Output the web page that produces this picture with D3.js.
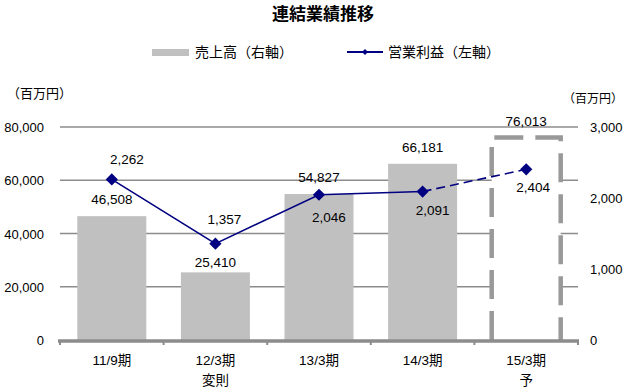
<!DOCTYPE html>
<html>
<head>
<meta charset="utf-8">
<script src="https://cdn.jsdelivr.net/npm/d3@7"></script>
<style>
  body { margin: 0; background: #fff; }
  svg { display: block; }
</style>
</head>
<body>
<div id="chart"></div>
<script>
// data
var periods = ['11/9期', '12/3期', '13/3期', '14/3期', '15/3期'];
var periodNotes = ['', '変則', '', '', '予'];
var sales = [46508, 25410, 54827, 66181, 76013];      // bars, left scale
var profit = [2262, 1357, 2046, 2091, 2404];          // line, right scale
var forecast = [false, false, false, false, true];
var leftTicks = [0, 20000, 40000, 60000, 80000];
var rightTicks = [0, 1000, 2000, 3000];

// label nudges (px) to follow the original placement
var salesLabelDy = [-17, -10, -17, -17, -17];
var profitLabelDx = [15, 9, 10, 10, 7];
var profitLabelDy = [-20, -25, 22, 18, 18];

var W = 629, H = 390;
var numFont = '"Liberation Sans", Arial, "Noto Sans CJK JP", sans-serif';
var jpFont = '"Noto Sans CJK JP", sans-serif';
var fmt = d3.format(',');

var svg = d3.select('#chart').append('svg')
  .attr('width', W)
  .attr('height', H);

var x = d3.scaleBand()
  .domain(periods)
  .range([60, 578])
  .paddingInner(0.334)
  .paddingOuter(0.167);

var yL = d3.scaleLinear().domain([0, 80000]).range([340, 127]);
var yR = d3.scaleLinear().domain([0, 3000]).range([340, 127]);

// title + legend
svg.append('text')
  .attr('x', 323).attr('y', 20)
  .attr('text-anchor', 'middle')
  .style('font-family', jpFont)
  .style('font-size', '17px')
  .style('font-weight', 'bold')
  .text('連結業績推移');

var lg = svg.append('g');
lg.append('rect')
  .attr('x', 152).attr('y', 49)
  .attr('width', 37).attr('height', 7)
  .attr('fill', '#c0c0c0');
lg.append('text')
  .attr('x', 195).attr('y', 57)
  .style('font-family', jpFont).style('font-size', '14px')
  .text('売上高（右軸）');
lg.append('line')
  .attr('x1', 347).attr('x2', 383)
  .attr('y1', 52).attr('y2', 52)
  .attr('stroke', '#000080').attr('stroke-width', 2);
lg.append('path')
  .attr('d', d3.symbol().type(d3.symbolDiamond2).size(24)())
  .attr('transform', 'translate(365,52)')
  .attr('fill', '#000080');
lg.append('text')
  .attr('x', 388).attr('y', 57)
  .style('font-family', jpFont).style('font-size', '14px')
  .text('営業利益（左軸）');

// unit labels
svg.append('text')
  .attr('x', 7).attr('y', 98)
  .style('font-family', jpFont).style('font-size', '13px')
  .text('（百万円）');
svg.append('text')
  .attr('x', 623).attr('y', 103)
  .attr('text-anchor', 'end')
  .style('font-family', jpFont).style('font-size', '12px')
  .text('（百万円）');

// gridlines
svg.append('g')
  .selectAll('line')
  .data(leftTicks.filter(function(d) { return d > 0; }))
  .join('line')
  .attr('x1', 60).attr('x2', 578)
  .attr('y1', function(d) { return yL(d); })
  .attr('y2', function(d) { return yL(d); })
  .attr('stroke', '#8c8c8c')
  .attr('stroke-width', 1.5);

// left axis labels
svg.append('g')
  .selectAll('text')
  .data(leftTicks)
  .join('text')
  .attr('x', 44)
  .attr('y', function(d) { return yL(d) + 5; })
  .attr('text-anchor', 'end')
  .style('font-family', numFont).style('font-size', '13px')
  .text(function(d) { return fmt(d); });

// right axis labels
svg.append('g')
  .selectAll('text')
  .data(rightTicks)
  .join('text')
  .attr('x', 590)
  .attr('y', function(d) { return yR(d) + 5; })
  .style('font-family', numFont).style('font-size', '13px')
  .text(function(d) { return fmt(d); });

// bars
var bars = svg.append('g');
bars.selectAll('rect.actual')
  .data(periods.filter(function(p, i) { return !forecast[i]; }))
  .join('rect')
  .attr('class', 'actual')
  .attr('x', function(p) { return x(p); })
  .attr('width', x.bandwidth())
  .attr('y', function(p) { return yL(sales[periods.indexOf(p)]); })
  .attr('height', function(p) { return 340 - yL(sales[periods.indexOf(p)]); })
  .attr('fill', '#c0c0c0');

// forecast bar: white box with open dashed outline
var planBars = periods.filter(function(p, i) { return forecast[i]; });
bars.selectAll('rect.plan')
  .data(planBars)
  .join('rect')
  .attr('class', 'plan')
  .attr('x', function(p) { return x(p); })
  .attr('width', x.bandwidth())
  .attr('y', function(p) { return yL(sales[periods.indexOf(p)]); })
  .attr('height', function(p) { return 340 - yL(sales[periods.indexOf(p)]); })
  .attr('fill', '#fff');
bars.selectAll('path.plan')
  .data(planBars)
  .join('path')
  .attr('class', 'plan')
  .attr('d', function(p) {
    var x0 = x(p), x1 = x(p) + x.bandwidth();
    var top = yL(sales[periods.indexOf(p)]);
    return 'M' + x0 + ',340V' + top + 'H' + x1 + 'V340';
  })
  .attr('fill', 'none')
  .attr('stroke', '#999')
  .attr('stroke-width', 4.5)
  .attr('stroke-dasharray', '29,12');

// bottom axis
svg.append('line')
  .attr('x1', 58).attr('x2', 579)
  .attr('y1', 341).attr('y2', 341)
  .attr('stroke', '#8c8c8c')
  .attr('stroke-width', 3.5);
var edges = periods.map(function(p) { return x(p) - x.step() * x.paddingInner() / 2; });
edges.push(578);
svg.append('g')
  .selectAll('line')
  .data(edges)
  .join('line')
  .attr('x1', function(d) { return d; })
  .attr('x2', function(d) { return d; })
  .attr('y1', 341).attr('y2', 345)
  .attr('stroke', '#8c8c8c')
  .attr('stroke-width', 2);

// category labels
var cats = svg.append('g');
cats.selectAll('text.cat')
  .data(periods)
  .join('text')
  .attr('class', 'cat')
  .attr('x', function(p) { return x(p) + x.bandwidth() / 2; })
  .attr('y', 365)
  .attr('text-anchor', 'middle')
  .style('font-family', numFont).style('font-size', '13.5px')
  .text(function(p) { return p; });
cats.selectAll('text.note')
  .data(periodNotes)
  .join('text')
  .attr('class', 'note')
  .attr('x', function(d, i) { return x(periods[i]) + x.bandwidth() / 2; })
  .attr('y', 385)
  .attr('text-anchor', 'middle')
  .style('font-family', jpFont).style('font-size', '13.5px')
  .text(function(d) { return d; });

// sales labels
svg.append('g')
  .selectAll('text')
  .data(sales)
  .join('text')
  .attr('x', function(d, i) { return x(periods[i]) + x.bandwidth() / 2; })
  .attr('y', function(d, i) { return yL(d) + salesLabelDy[i] + 5; })
  .attr('text-anchor', 'middle')
  .style('font-family', numFont).style('font-size', '13.5px')
  .text(function(d) { return fmt(d); });

// profit line
var cx = function(i) { return x(periods[i]) + x.bandwidth() / 2; };
var line = d3.line()
  .x(function(d) { return cx(d); })
  .y(function(d) { return yR(profit[d]); });
var solidIdx = d3.range(profit.length).filter(function(i) { return !forecast[i]; });
var dashIdx = [solidIdx[solidIdx.length - 1]].concat(
  d3.range(profit.length).filter(function(i) { return forecast[i]; }));

svg.append('path')
  .attr('d', line(solidIdx))
  .attr('fill', 'none')
  .attr('stroke', '#000080')
  .attr('stroke-width', 1.6);
svg.append('path')
  .attr('d', line(dashIdx))
  .attr('fill', 'none')
  .attr('stroke', '#000080')
  .attr('stroke-width', 1.6)
  .attr('stroke-dasharray', '9,5');

svg.append('g')
  .selectAll('path')
  .data(profit)
  .join('path')
  .attr('d', d3.symbol().type(d3.symbolDiamond2).size(95)())
  .attr('transform', function(d, i) { return 'translate(' + cx(i) + ',' + yR(d) + ')'; })
  .attr('fill', '#000080');

svg.append('g')
  .selectAll('text')
  .data(profit)
  .join('text')
  .attr('x', function(d, i) { return cx(i) + profitLabelDx[i]; })
  .attr('y', function(d, i) { return yR(d) + profitLabelDy[i] + 5; })
  .attr('text-anchor', 'middle')
  .style('font-family', numFont).style('font-size', '13.5px')
  .text(function(d) { return fmt(d); });
</script>
</body>
</html>
